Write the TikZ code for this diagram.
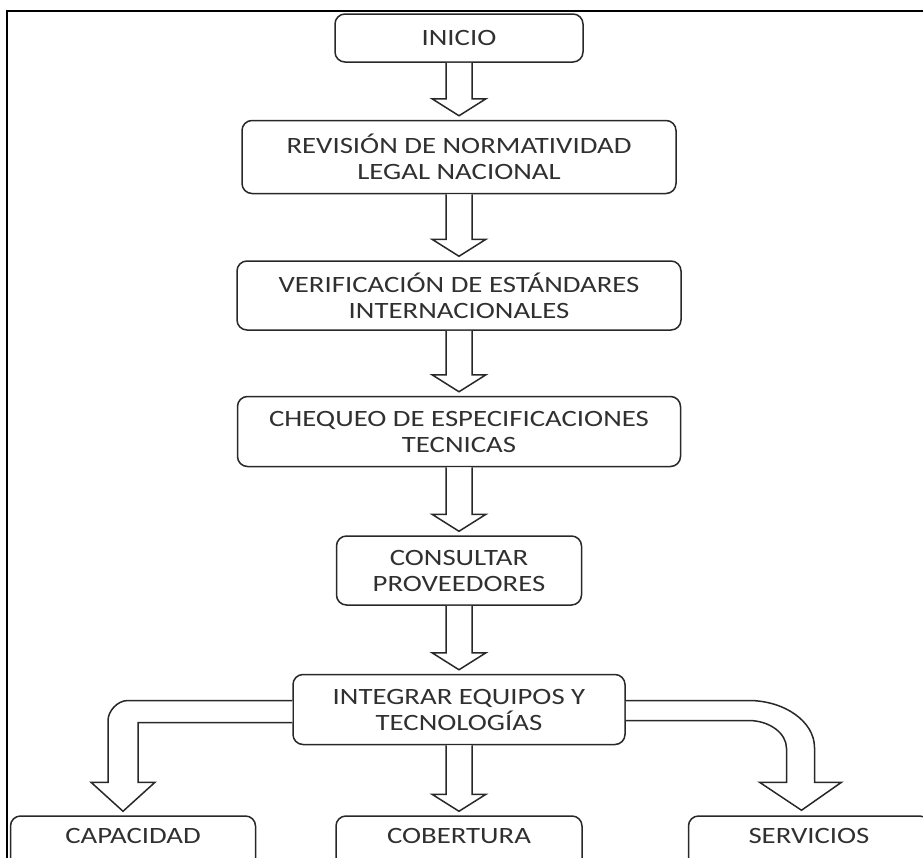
\documentclass[tikz,border=0pt]{standalone}
\usepackage{fontspec}
\newfontfamily\boxfont[FakeStretch=1.23]{Carlito}
\usetikzlibrary{calc}
\usetikzlibrary{positioning}
\definecolor{boxline}{RGB}{40,40,40}
\definecolor{boxtext}{RGB}{48,48,48}

\begin{document}
\begin{tikzpicture}[x=0.5pt,y=-0.5pt,node distance=33pt]
	\tikzstyle{stepbox}=[draw=boxline, line width=0.75pt, rounded corners=5pt, align=center, text=boxtext, font=\boxfont\fontsize{11.7}{13}\selectfont, inner sep=2pt]
	\tikzstyle{fatbend}=[draw=boxline, line width=0.75pt, fill=white]
	\tikzstyle{fatdown}=[fatbend, to path={
		($(\tikztostart.south)+(-13,0)$) -- ($(\tikztotarget.north -| \tikztostart.south)+(-13,-21)$) -- ++(-14,0)
		-- ($(\tikztotarget.north -| \tikztostart.south)+(0,-4)$) -- ($(\tikztotarget.north -| \tikztostart.south)+(27,-21)$)
		-- ++(-14,0) -- ($(\tikztostart.south)+(13,0)$)}]
	\useasboundingbox (0,0) rectangle (923,858);
	\clip (0,0) rectangle (923,858);
	% frame
	\draw[line width=1pt] (7,858) -- (7,11) -- (923,11);
	% steps
	\node[stepbox, minimum width=124pt, minimum height=24pt] (inicio) at (459,38) {INICIO};
	\node[stepbox, minimum width=217pt, minimum height=36.5pt, below=28.5pt of inicio] (revision) {REVISIÓN DE NORMATIVIDAD\\LEGAL NACIONAL};
	\node[stepbox, minimum width=222pt, minimum height=34.5pt, below=33pt of revision] (verificacion) {VERIFICACIÓN DE ESTÁNDARES\\INTERNACIONALES};
	\node[stepbox, minimum width=221.5pt, minimum height=35pt, below=32.5pt of verificacion] (chequeo) {CHEQUEO DE ESPECIFICACIONES\\TECNICAS};
	\node[stepbox, minimum width=122.5pt, minimum height=34.5pt, below=34pt of chequeo] (consultar) {CONSULTAR\\PROVEEDORES};
	\node[stepbox, minimum width=166pt, minimum height=35pt, below=34pt of consultar] (integrar) {INTEGRAR EQUIPOS Y\\TECNOLOGÍAS};
	% results
	\node[stepbox, minimum width=123pt, minimum height=33pt, below=35pt of integrar] (cobertura) {COBERTURA\\\mbox{}};
	\node[stepbox, minimum width=122.5pt, minimum height=33pt, left=39.5pt of cobertura] (capacidad) {CAPACIDAD\\\mbox{}};
	\node[stepbox, minimum width=120.5pt, minimum height=33pt, right=52.5pt of cobertura] (servicios) {SERVICIOS\\\mbox{}};
	% straight block arrows
	\path
		(inicio) edge[fatdown] (revision)
		(revision) edge[fatdown] (verificacion)
		(verificacion) edge[fatdown] (chequeo)
		(chequeo) edge[fatdown] (consultar)
		(consultar) edge[fatdown] (integrar)
		(integrar) edge[fatdown] (cobertura);
	% bent block arrows
	\coordinate (lstart) at ($(integrar.west)+(0,-9)$);
	\coordinate (ltip) at ($(capacidad.north)+(-10,-4)$);
	\draw[fatbend] (lstart) -- ($(lstart -| ltip)+(5,0)$)
		.. controls ($(lstart -| ltip)+(-6,0)$) and ($(lstart -| ltip)+(-15,11)$) .. ($(lstart -| ltip)+(-15,20)$)
		-- ($(ltip)+(-15,-29)$) -- ++(-17,0) -- (ltip) -- ++(32,-29) -- ++(-17,0) |- ($(lstart)+(0,22)$);
	\coordinate (rstart) at ($(integrar.east)+(0,-9)$);
	\coordinate (rtip) at ($(servicios.north)+(-7.5,-5)$);
	\draw[fatbend] (rstart) -- ($(rstart -| rtip)+(-53,0)$)
		.. controls ($(rstart -| rtip)+(-17,0)$) and ($(rstart -| rtip)+(13,21)$) .. ($(rstart -| rtip)+(13,47)$)
		-- ($(rtip)+(13,-28)$) -- ++(27,0) -- (rtip) -- ++(-42,-28) -- ++(27,0) -- ($(rtip)+(-15,-62)$)
		.. controls ($(rtip)+(-15,-77)$) and ($(rstart -| rtip)+(-32,20)$) .. ($(rstart -| rtip)+(-53,20)$)
		-- ($(rstart)+(0,20)$);
\end{tikzpicture}
\end{document}
